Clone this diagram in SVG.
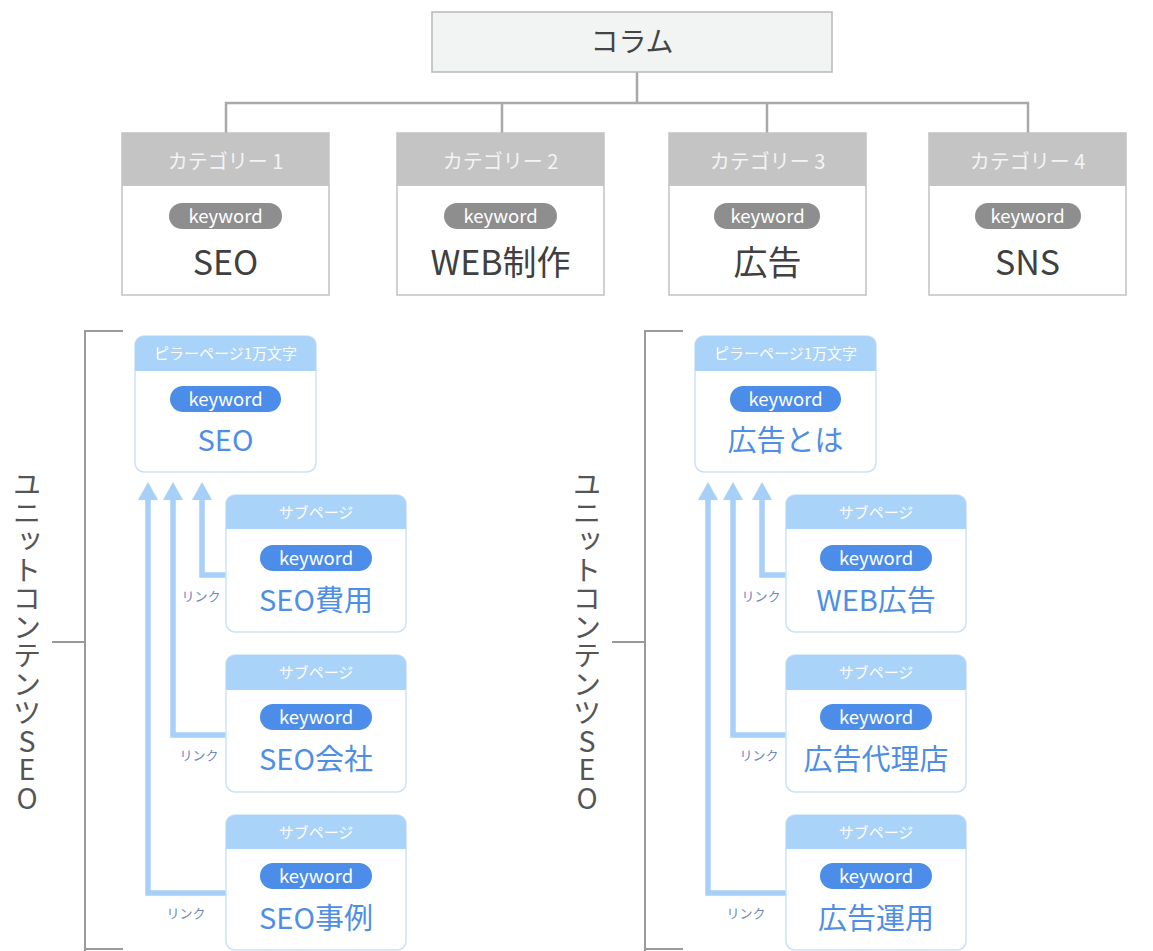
<svg xmlns="http://www.w3.org/2000/svg" width="1153" height="951" viewBox="0 0 1153 951">
<style>
text{font-family:"Noto Sans CJK JP","Noto Sans",sans-serif;text-anchor:middle}
.gline{stroke:#a9a9a9;stroke-width:2.5;fill:none}
.br{stroke:#9a9a9a;stroke-width:2;fill:none}
.cbox{fill:#fff;stroke:#c2c2c2;stroke-width:1.5}
.chead{fill:#c4c4c4}
.chtxt{fill:#f4f4f4;font-size:20px}
.gpill{fill:#8e8e8e}
.pilltxt{fill:#fff;font-size:18.5px}
.ctxt{fill:#404040;font-size:34px}
.bbox{fill:#fff;stroke:#cde2f5;stroke-width:1.5}
.bhead{fill:#a9d3f8}
.bhtxt{fill:#fff;font-size:15px}
.bpill{fill:#4b8de8}
.btxt{fill:#4e8ee4;font-size:29px}
.arr{stroke:#a6d0f7;stroke-width:5.5;fill:none}
.link{fill:#6f86c2;font-size:13px}
.vt{fill:#555;font-size:28.5px;writing-mode:vertical-rl;text-orientation:upright;text-anchor:start}
</style>
<defs>
<marker id="ah" viewBox="0 0 18 20" refX="4" refY="10" markerWidth="18" markerHeight="20" orient="auto" markerUnits="userSpaceOnUse">
<path d="M0,0 L18,10 L0,20 Z" fill="#a6d0f7"/>
</marker>
</defs>
<rect width="1153" height="951" fill="#fff"/>

<g id="connectors">
<path class="gline" d="M637,72 V103 M226,133 V103 H1028 V133 M502,103 V133 M767,103 V133"/>
<path class="br" d="M123,331 H85 V951 M85,642 H52 M85,949 H123"/>
<path class="br" d="M683,331 H645 V951 M645,642 H612 M645,949 H683"/>
<path class="arr" d="M226,575 H202 V496" marker-end="url(#ah)"/>
<path class="arr" d="M226,735 H173 V496" marker-end="url(#ah)"/>
<path class="arr" d="M226,893 H148 V496" marker-end="url(#ah)"/>
<path class="arr" d="M786,575 H762 V496" marker-end="url(#ah)"/>
<path class="arr" d="M786,735 H733 V496" marker-end="url(#ah)"/>
<path class="arr" d="M786,893 H708 V496" marker-end="url(#ah)"/>
<text class="link" x="201" y="601">リンク</text>
<text class="link" x="199" y="760">リンク</text>
<text class="link" x="186" y="918">リンク</text>
<text class="link" x="761" y="601">リンク</text>
<text class="link" x="759" y="760">リンク</text>
<text class="link" x="746" y="918">リンク</text>
</g>

<g id="column">
<rect x="432" y="12" width="400" height="60" fill="#f2f4f4" stroke="#b8b8b8" stroke-width="1.5"/>
<text x="632" y="52" fill="#444" font-size="28">コラム</text>
</g>

<g id="cat1">
<rect class="cbox" x="122" y="133" width="207" height="162"/>
<rect class="chead" x="122" y="133" width="207" height="53"/>
<text class="chtxt" x="225.5" y="169">カテゴリー 1</text>
<rect class="gpill" x="169" y="203" width="113" height="26" rx="13"/>
<text class="pilltxt" x="225.5" y="222.5">keyword</text>
<text class="ctxt" x="225.5" y="275">SEO</text>
</g>
<g id="cat2">
<rect class="cbox" x="397" y="133" width="207" height="162"/>
<rect class="chead" x="397" y="133" width="207" height="53"/>
<text class="chtxt" x="500.5" y="169">カテゴリー 2</text>
<rect class="gpill" x="444" y="203" width="113" height="26" rx="13"/>
<text class="pilltxt" x="500.5" y="222.5">keyword</text>
<text class="ctxt" x="500.5" y="275">WEB制作</text>
</g>
<g id="cat3">
<rect class="cbox" x="669" y="133" width="197" height="162"/>
<rect class="chead" x="669" y="133" width="197" height="53"/>
<text class="chtxt" x="767.5" y="169">カテゴリー 3</text>
<rect class="gpill" x="714" y="203" width="106" height="26" rx="13"/>
<text class="pilltxt" x="767.5" y="222.5">keyword</text>
<text class="ctxt" x="767.5" y="275">広告</text>
</g>
<g id="cat4">
<rect class="cbox" x="929" y="133" width="197" height="162"/>
<rect class="chead" x="929" y="133" width="197" height="53"/>
<text class="chtxt" x="1027.5" y="169">カテゴリー 4</text>
<rect class="gpill" x="975" y="203" width="106" height="26" rx="13"/>
<text class="pilltxt" x="1027.5" y="222.5">keyword</text>
<text class="ctxt" x="1027.5" y="275">SNS</text>
</g>

<g id="label-left">
<text class="vt" x="27" y="470">ユニットコンテンツSEO</text>
</g>
<g id="label-right">
<text class="vt" x="587" y="470">ユニットコンテンツSEO</text>
</g>

<g id="pillar-left">
<rect class="bbox" x="135" y="336" width="181" height="136" rx="9"/>
<path class="bhead" d="M135,371 V345 a9,9 0 0 1 9,-9 H307 a9,9 0 0 1 9,9 V371 Z"/>
<text class="bhtxt" x="225.5" y="359">ピラーページ1万文字</text>
<rect class="bpill" x="170" y="386" width="111" height="26" rx="13"/>
<text class="pilltxt" x="225.5" y="405.5">keyword</text>
<text class="btxt" x="225.5" y="451">SEO</text>
</g>
<g id="sub-left-1">
<rect class="bbox" x="226" y="495" width="180" height="137" rx="9"/>
<path class="bhead" d="M226,529 V504 a9,9 0 0 1 9,-9 H397 a9,9 0 0 1 9,9 V529 Z"/>
<text class="bhtxt" x="316" y="518">サブページ</text>
<rect class="bpill" x="260" y="545" width="112" height="26" rx="13"/>
<text class="pilltxt" x="316" y="564.5">keyword</text>
<text class="btxt" x="316" y="611">SEO費用</text>
</g>
<g id="sub-left-2">
<rect class="bbox" x="226" y="655" width="180" height="137" rx="9"/>
<path class="bhead" d="M226,690 V664 a9,9 0 0 1 9,-9 H397 a9,9 0 0 1 9,9 V690 Z"/>
<text class="bhtxt" x="316" y="678">サブページ</text>
<rect class="bpill" x="260" y="704" width="112" height="26" rx="13"/>
<text class="pilltxt" x="316" y="723.5">keyword</text>
<text class="btxt" x="316" y="770">SEO会社</text>
</g>
<g id="sub-left-3">
<rect class="bbox" x="226" y="815" width="180" height="135" rx="9"/>
<path class="bhead" d="M226,849 V824 a9,9 0 0 1 9,-9 H397 a9,9 0 0 1 9,9 V849 Z"/>
<text class="bhtxt" x="316" y="838">サブページ</text>
<rect class="bpill" x="260" y="863" width="112" height="26" rx="13"/>
<text class="pilltxt" x="316" y="882.5">keyword</text>
<text class="btxt" x="316" y="929">SEO事例</text>
</g>

<g id="pillar-right">
<rect class="bbox" x="695" y="336" width="181" height="136" rx="9"/>
<path class="bhead" d="M695,371 V345 a9,9 0 0 1 9,-9 H867 a9,9 0 0 1 9,9 V371 Z"/>
<text class="bhtxt" x="785.5" y="359">ピラーページ1万文字</text>
<rect class="bpill" x="730" y="386" width="111" height="26" rx="13"/>
<text class="pilltxt" x="785.5" y="405.5">keyword</text>
<text class="btxt" x="785.5" y="451">広告とは</text>
</g>
<g id="sub-right-1">
<rect class="bbox" x="786" y="495" width="180" height="137" rx="9"/>
<path class="bhead" d="M786,529 V504 a9,9 0 0 1 9,-9 H957 a9,9 0 0 1 9,9 V529 Z"/>
<text class="bhtxt" x="876" y="518">サブページ</text>
<rect class="bpill" x="820" y="545" width="112" height="26" rx="13"/>
<text class="pilltxt" x="876" y="564.5">keyword</text>
<text class="btxt" x="876" y="611">WEB広告</text>
</g>
<g id="sub-right-2">
<rect class="bbox" x="786" y="655" width="180" height="137" rx="9"/>
<path class="bhead" d="M786,690 V664 a9,9 0 0 1 9,-9 H957 a9,9 0 0 1 9,9 V690 Z"/>
<text class="bhtxt" x="876" y="678">サブページ</text>
<rect class="bpill" x="820" y="704" width="112" height="26" rx="13"/>
<text class="pilltxt" x="876" y="723.5">keyword</text>
<text class="btxt" x="876" y="770">広告代理店</text>
</g>
<g id="sub-right-3">
<rect class="bbox" x="786" y="815" width="180" height="135" rx="9"/>
<path class="bhead" d="M786,849 V824 a9,9 0 0 1 9,-9 H957 a9,9 0 0 1 9,9 V849 Z"/>
<text class="bhtxt" x="876" y="838">サブページ</text>
<rect class="bpill" x="820" y="863" width="112" height="26" rx="13"/>
<text class="pilltxt" x="876" y="882.5">keyword</text>
<text class="btxt" x="876" y="929">広告運用</text>
</g>
</svg>
